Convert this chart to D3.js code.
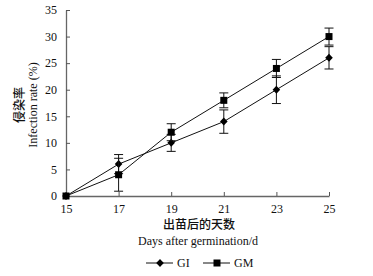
<!DOCTYPE html>
<html>
<head>
<meta charset="utf-8">
<script src="https://cdn.jsdelivr.net/npm/d3@7"></script>
<style>
  body { margin: 0; background: #fff; }
  text { font-family: "Liberation Serif", "Times New Roman", serif; fill: #111; }
  .cn { font-family: "Noto Sans CJK SC", sans-serif; }
</style>
</head>
<body>
<div id="chart"></div>
<script>
const days = [15, 17, 19, 21, 23, 25];
const giValues = [0, 6, 10, 14, 20, 26];
const giErr = [0, 1.8, 1.6, 2.2, 2.6, 2.1];
const gmValues = [0, 4, 12, 18, 24, 30];
const gmErr = [0, 3.1, 1.6, 1.4, 1.7, 1.6];
const yTicks = [0, 5, 10, 15, 20, 25, 30, 35];

const width = 373, height = 276;

const svg = d3.select("#chart")
  .append("svg")
    .attr("width", width)
    .attr("height", height);

const x = d3.scaleLinear().domain([15, 25]).range([66, 329]);
const y = d3.scaleLinear().domain([0, 35]).range([196, 10]);

// axes, ticks pointing in
const xAxis = d3.axisBottom(x).tickValues(days).tickSizeInner(-4).tickSizeOuter(0).tickPadding(8);
const yAxis = d3.axisLeft(y).tickValues(yTicks).tickSizeInner(-4).tickSizeOuter(0).tickPadding(9);

const gx = svg.append("g")
    .attr("transform", `translate(0,${y(0)})`)
    .call(xAxis);
const gy = svg.append("g")
    .attr("transform", `translate(${x(15)},0)`)
    .call(yAxis);

[gx, gy].forEach(g => {
  g.select(".domain").attr("stroke", "#666").attr("stroke-width", 1.3);
  g.selectAll(".tick line").attr("stroke", "#555");
  g.selectAll(".tick text")
    .attr("fill", "#222")
    .style("font-family", "Liberation Serif")
    .style("font-size", "12px");
});

const series = [
  {name: "GI", vals: giValues, err: giErr, shape: "diamond"},
  {name: "GM", vals: gmValues, err: gmErr, shape: "square"}
];

const line = d3.line().x(d => x(d.day)).y(d => y(d.v));

function marker(sel, shape) {
  if (shape === "diamond") {
    sel.append("path").attr("d", "M0,-4L3.8,0L0,4L-3.8,0Z").attr("fill", "#000");
  } else {
    sel.append("rect").attr("x", -3.5).attr("y", -3.5).attr("width", 7).attr("height", 7).attr("fill", "#000");
  }
}

series.forEach(s => {
  const pts = days.map((d, i) => ({day: d, v: s.vals[i], e: s.err[i]}));

  svg.append("path")
    .datum(pts)
    .attr("fill", "none")
    .attr("stroke", "#111")
    .attr("stroke-width", 1)
    .attr("d", line);

  // error bars
  const eb = svg.append("g").selectAll("g")
    .data(pts.filter(p => p.e > 0))
    .join("g")
      .attr("stroke", "#111")
      .attr("stroke-width", 1);
  eb.append("line")
    .attr("x1", d => x(d.day)).attr("x2", d => x(d.day))
    .attr("y1", d => y(d.v - d.e)).attr("y2", d => y(d.v + d.e));
  eb.append("line")
    .attr("x1", d => x(d.day) - 4.5).attr("x2", d => x(d.day) + 4.5)
    .attr("y1", d => y(d.v + d.e)).attr("y2", d => y(d.v + d.e));
  eb.append("line")
    .attr("x1", d => x(d.day) - 4.5).attr("x2", d => x(d.day) + 4.5)
    .attr("y1", d => y(d.v - d.e)).attr("y2", d => y(d.v - d.e));

  svg.append("g").selectAll("g")
    .data(pts)
    .join("g")
      .attr("transform", d => `translate(${x(d.day)},${y(d.v)})`)
      .each(function() { marker(d3.select(this), s.shape); });
});

// y title
svg.append("text")
    .attr("class", "cn")
    .attr("transform", "translate(24,105) rotate(-90)")
    .attr("text-anchor", "middle")
    .style("font-size", "12px")
    .style("font-weight", "500")
    .text("侵染率");
svg.append("text")
    .attr("transform", "translate(37,105) rotate(-90)")
    .attr("text-anchor", "middle")
    .style("font-size", "12px")
    .text("Infection rate (%)");

// x title
svg.append("text")
    .attr("class", "cn")
    .attr("x", 199).attr("y", 229)
    .attr("text-anchor", "middle")
    .style("font-size", "12px")
    .style("font-weight", "500")
    .text("出苗后的天数");
svg.append("text")
    .attr("x", 198).attr("y", 245)
    .attr("text-anchor", "middle")
    .style("font-size", "12px")
    .text("Days after germination/d");

// legend
const legend = [
  {name: "GI", shape: "diamond", x0: 146},
  {name: "GM", shape: "square", x0: 203}
];
const lg = svg.append("g").selectAll("g")
  .data(legend)
  .join("g")
    .attr("transform", d => `translate(${d.x0},263)`);
lg.append("line")
    .attr("x1", 0).attr("x2", 27)
    .attr("stroke", "#111");
lg.append("g")
    .attr("transform", "translate(14,0)")
    .each(function(d) { marker(d3.select(this), d.shape); });
lg.append("text")
    .attr("x", 31).attr("y", 4)
    .style("font-size", "12px")
    .text(d => d.name);
</script>
</body>
</html>
